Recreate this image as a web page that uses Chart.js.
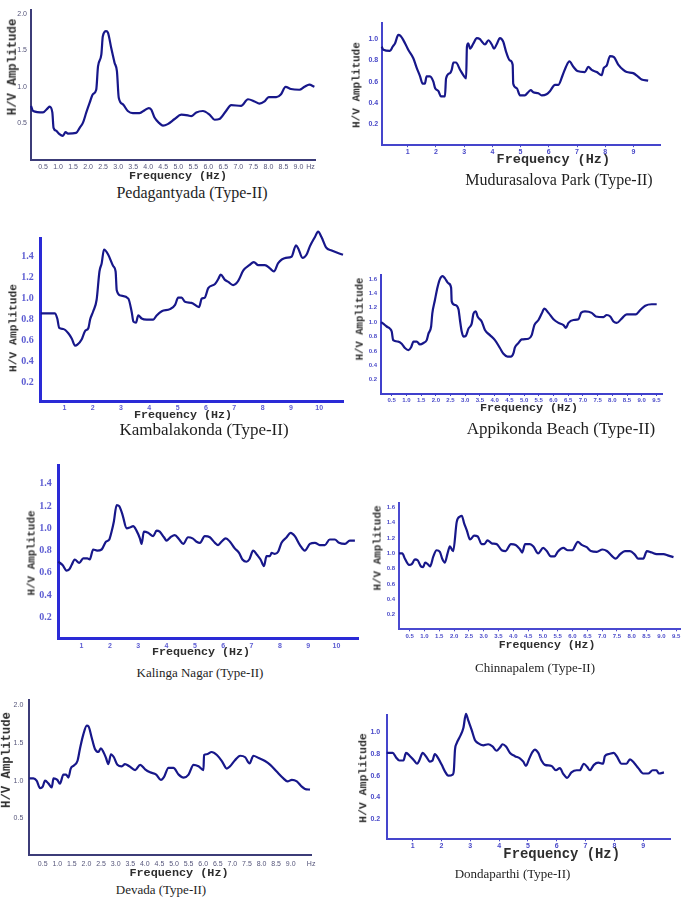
<!DOCTYPE html>
<html><head><meta charset="utf-8">
<script src="https://cdn.jsdelivr.net/npm/chart.js@4.4.1/dist/chart.umd.min.js"></script>
<style>
html,body{margin:0;padding:0;background:#fff;width:685px;height:897px;overflow:hidden;position:relative}
canvas{position:absolute}
.t{position:absolute;white-space:nowrap;line-height:1;transform:translate(-50%,-50%)}
.cap{font-family:"Liberation Serif","Times New Roman",serif;color:#1e1e1e}
.ax{font-family:"Liberation Mono","Courier New",monospace;font-weight:bold;color:#2e2e2e}
.rot{transform:translate(-50%,-50%) rotate(-90deg)}
</style>
</head><body>
<script>
// ---------- DATA ----------
const titles = ["Pedagantyada (Type-II)","Mudurasalova Park (Type-II)","Kambalakonda (Type-II)","Appikonda Beach (Type-II)","Kalinga Nagar (Type-II)","Chinnapalem (Type-II)","Devada (Type-II)","Dondaparthi (Type-II)"];
const xAxisTitle = "Frequency  (Hz)";
const yAxisTitle = "H/V Amplitude";

const p1Freq = [0.1,0.17,0.5,0.66,0.72,0.81,0.85,0.94,1.03,1.16,1.25,1.33,1.6,1.72,1.83,1.94,2.05,2.16,2.27,2.33,2.44,2.49,2.6,2.66,2.77,2.88,2.96,3.02,3.16,3.32,3.49,3.71,3.88,4.02,4.1,4.21,4.38,4.49,4.65,4.88,5.1,5.32,5.43,5.6,5.82,6.04,6.21,6.37,6.59,6.76,7.09,7.32,7.54,7.7,7.87,8.01,8.26,8.42,8.57,8.75,9.03,9.2,9.36,9.53];
const p1Amp  = [0.74,0.67,0.65,0.71,0.73,0.65,0.44,0.40,0.36,0.33,0.38,0.36,0.37,0.44,0.51,0.65,0.78,0.90,0.96,1.28,1.44,1.69,1.76,1.74,1.53,1.33,1.21,0.85,0.76,0.67,0.64,0.64,0.68,0.71,0.69,0.58,0.50,0.47,0.49,0.56,0.62,0.61,0.60,0.65,0.67,0.62,0.55,0.56,0.67,0.75,0.74,0.83,0.80,0.77,0.80,0.86,0.86,0.90,1.00,0.97,0.96,1.00,1.03,1.00];
const p1XTicks = [0.5,1,1.5,2,2.5,3,3.5,4,4.5,5,5.5,6,6.5,7,7.5,8,8.5,9,9.4];
const p1XLabels = ["0.5","1.0","1.5","2.0","2.5","3.0","3.5","4.0","4.5","5.0","5.5","6.0","6.5","7.0","7.5","8.0","8.5","9.0","Hz"];
const p1YTicks = [0.5,1.0,1.5,2.0];
const p1YLabels = ["0.5","1.0","1.5","2.0"];

const p2Freq = [0.08,0.14,0.37,0.47,0.55,0.67,0.75,0.91,1.02,1.2,1.32,1.44,1.53,1.61,1.67,1.79,1.91,1.97,2.09,2.18,2.32,2.36,2.5,2.56,2.62,2.71,2.86,3.0,3.07,3.1,3.15,3.21,3.33,3.45,3.56,3.62,3.74,3.86,3.98,4.06,4.15,4.27,4.38,4.5,4.62,4.72,4.74,4.86,4.98,5.15,5.27,5.36,5.45,5.63,5.75,5.92,6.04,6.22,6.34,6.49,6.61,6.73,6.87,7.01,7.28,7.4,7.52,7.7,7.87,7.95,8.05,8.17,8.31,8.46,8.64,8.76,8.99,9.15,9.29,9.52];
const p2Amp  = [0.93,0.90,0.89,0.93,0.96,1.04,1.03,0.96,0.90,0.82,0.73,0.65,0.58,0.58,0.65,0.65,0.60,0.54,0.51,0.46,0.46,0.63,0.68,0.71,0.78,0.78,0.71,0.65,0.63,0.93,0.96,0.91,0.96,1.01,1.0,0.98,0.95,0.99,0.95,0.91,0.95,1.01,0.98,0.87,0.80,0.76,0.58,0.54,0.47,0.47,0.50,0.52,0.50,0.49,0.47,0.48,0.51,0.57,0.57,0.66,0.74,0.79,0.74,0.70,0.69,0.74,0.71,0.69,0.66,0.73,0.75,0.84,0.83,0.76,0.71,0.69,0.68,0.65,0.62,0.61];
const p2XTicks = [1,2,3,4,5,6,7,8,9];
const p2XLabels = ["1","2","3","4","5","6","7","8","9"];
const p2YTicks = [0.2,0.4,0.6,0.8,1.0];
const p2YLabels = ["0.2","0.4","0.6","0.8","1.0"];

const p3Freq = [0.165,0.67,0.75,0.82,0.96,1.14,1.26,1.38,1.46,1.61,1.73,1.85,1.91,2.02,2.14,2.24,2.32,2.4,2.55,2.73,2.81,2.85,2.99,3.26,3.38,3.44,3.53,3.61,3.73,3.91,4.14,4.26,4.44,4.73,4.91,5.02,5.14,5.26,5.49,5.76,5.85,5.96,6.08,6.32,6.44,6.52,6.67,6.79,6.96,7.14,7.32,7.53,7.69,7.85,8.08,8.26,8.4,8.55,8.82,9.02,9.18,9.26,9.41,9.55,9.67,9.85,9.96,10.08,10.24,10.44,10.84];
const p3Amp  = [0.86,0.86,0.81,0.72,0.71,0.67,0.62,0.55,0.56,0.61,0.69,0.72,0.80,0.88,0.99,1.26,1.34,1.47,1.42,1.31,1.26,1.08,1.03,1.0,0.87,0.78,0.77,0.84,0.81,0.80,0.80,0.84,0.88,0.90,0.94,1.01,1.01,0.97,0.96,0.92,1.0,1.01,1.10,1.14,1.19,1.23,1.18,1.16,1.13,1.17,1.27,1.32,1.35,1.32,1.32,1.29,1.26,1.34,1.39,1.40,1.51,1.48,1.39,1.42,1.50,1.59,1.64,1.59,1.49,1.46,1.42];
const p3XTicks = [1,2,3,4,5,6,7,8,9,10];
const p3XLabels = ["1","2","3","4","5","6","7","8","9","10"];
const p3YTicks = [0.2,0.4,0.6,0.8,1.0,1.2,1.4];
const p3YLabels = ["0.2","0.4","0.6","0.8","1.0","1.2","1.4"];

const p4Freq = [0.14,0.21,0.33,0.44,0.5,0.55,0.72,0.84,0.95,1.07,1.16,1.24,1.35,1.46,1.58,1.69,1.75,1.84,1.88,1.97,2.06,2.14,2.23,2.31,2.43,2.52,2.54,2.65,2.77,2.82,2.88,2.94,3.02,3.11,3.22,3.28,3.36,3.42,3.56,3.67,3.84,4.01,4.18,4.3,4.44,4.55,4.64,4.69,4.81,4.92,5.15,5.26,5.35,5.49,5.6,5.69,5.83,6.0,6.17,6.34,6.42,6.51,6.68,6.85,6.94,7.07,7.3,7.44,7.7,7.81,7.93,8.04,8.15,8.32,8.49,8.8,8.95,9.12,9.34,9.51];
const p4Amp  = [1.0,0.98,0.94,0.91,0.87,0.75,0.73,0.70,0.64,0.61,0.65,0.73,0.73,0.69,0.71,0.75,0.84,0.94,1.12,1.31,1.49,1.60,1.64,1.61,1.54,1.48,1.29,1.24,1.18,1.03,0.87,0.80,0.81,0.91,0.98,1.12,1.15,1.08,1.01,0.89,0.82,0.75,0.64,0.56,0.52,0.52,0.57,0.65,0.71,0.76,0.77,0.82,0.96,1.03,1.12,1.19,1.13,1.04,0.99,0.96,0.92,0.99,1.03,1.04,1.13,1.15,1.13,1.08,1.07,1.10,1.08,1.01,0.99,1.05,1.11,1.11,1.17,1.23,1.25,1.25];
const p4XTicks = [0.5,1,1.5,2,2.5,3,3.5,4,4.5,5,5.5,6,6.5,7,7.5,8,8.5,9,9.5];
const p4XLabels = ["0.5","1.0","1.5","2.0","2.5","3.0","3.5","4.0","4.5","5.0","5.5","6.0","6.5","7.0","7.5","8.0","8.5","9.0","9.5"];
const p4YTicks = [0.2,0.4,0.6,0.8,1.0,1.2,1.4,1.6];
const p4YLabels = ["0.2","0.4","0.6","0.8","1.0","1.2","1.4","1.6"];

const p5Freq = [0.18,0.33,0.47,0.56,0.65,0.76,0.92,1.06,1.2,1.29,1.41,1.55,1.71,1.86,1.98,2.06,2.14,2.24,2.33,2.45,2.59,2.73,2.82,2.94,3.06,3.12,3.2,3.35,3.53,3.65,3.76,3.91,4.0,4.14,4.29,4.45,4.59,4.76,4.92,5.06,5.18,5.35,5.53,5.71,5.82,5.94,6.09,6.24,6.41,6.56,6.68,6.82,6.92,7.06,7.2,7.32,7.44,7.53,7.65,7.71,7.82,7.94,8.06,8.24,8.38,8.53,8.71,8.88,9.06,9.24,9.41,9.59,9.76,9.94,10.09,10.3,10.47,10.65];
const p5Amp  = [0.70,0.67,0.62,0.63,0.67,0.72,0.69,0.73,0.73,0.72,0.81,0.80,0.81,0.88,0.90,0.97,1.06,1.21,1.20,1.12,1.0,1.01,1.02,0.98,0.91,0.86,0.97,0.96,0.93,0.98,0.97,0.92,0.89,0.92,0.94,0.90,0.86,0.92,0.91,0.88,0.87,0.93,0.92,0.87,0.85,0.88,0.91,0.88,0.82,0.78,0.72,0.70,0.72,0.80,0.76,0.72,0.66,0.75,0.75,0.78,0.77,0.79,0.87,0.92,0.96,0.93,0.85,0.80,0.86,0.87,0.85,0.85,0.90,0.90,0.87,0.86,0.89,0.89];
const p5XTicks = [1,2,3,4,5,6,7,8,9,10];
const p5XLabels = ["1","2","3","4","5","6","7","8","9","10"];
const p5YTicks = [0.2,0.4,0.6,0.8,1.0,1.2,1.4];
const p5YLabels = ["0.2","0.4","0.6","0.8","1.0","1.2","1.4"];

const p6Freq = [0.14,0.25,0.34,0.48,0.57,0.68,0.77,0.88,0.96,1.02,1.11,1.19,1.3,1.41,1.52,1.6,1.69,1.78,1.86,1.94,1.97,2.09,2.2,2.26,2.34,2.43,2.54,2.68,2.8,2.93,3.02,3.13,3.27,3.44,3.61,3.74,3.92,4.08,4.23,4.3,4.4,4.56,4.68,4.84,5.01,5.13,5.27,5.39,5.5,5.69,5.84,5.99,6.18,6.31,6.48,6.62,6.82,7.01,7.16,7.32,7.46,7.61,7.77,7.94,8.11,8.22,8.39,8.51,8.68,8.84,9.07,9.24,9.41];
const p6Amp  = [1.0,1.0,0.93,0.85,0.86,0.92,0.91,0.83,0.82,0.88,0.86,0.83,0.96,1.04,1.02,0.93,0.88,1.0,1.09,1.04,1.03,1.41,1.48,1.49,1.39,1.30,1.18,1.23,1.22,1.12,1.12,1.17,1.13,1.12,1.04,1.03,1.12,1.11,1.05,1.01,1.12,1.12,1.09,1.0,1.07,1.03,0.96,0.96,1.02,1.07,1.04,1.04,1.15,1.11,1.08,1.03,1.02,1.05,1.03,0.97,0.93,0.99,1.03,1.03,0.98,0.93,0.93,1.03,1.01,0.99,0.99,0.97,0.95];
const p6XTicks = [0.5,1,1.5,2,2.5,3,3.5,4,4.5,5,5.5,6,6.5,7,7.5,8,8.5,9,9.5];
const p6XLabels = ["0.5","1.0","1.5","2.0","2.5","3.0","3.5","4.0","4.5","5.0","5.5","6.0","6.5","7.0","7.5","8.0","8.5","9.0","9.5"];
const p6YTicks = [0.2,0.4,0.6,0.8,1.0,1.2,1.4,1.6];
const p6YLabels = ["0.2","0.4","0.6","0.8","1.0","1.2","1.4","1.6"];

const p7Freq = [0.04,0.18,0.29,0.41,0.5,0.58,0.7,0.81,0.87,1.0,1.09,1.21,1.3,1.38,1.46,1.57,1.69,1.78,1.89,2.01,2.07,2.18,2.29,2.41,2.49,2.58,2.67,2.75,2.84,2.94,3.06,3.21,3.32,3.47,3.67,3.84,4.01,4.18,4.39,4.55,4.66,4.81,4.98,5.16,5.33,5.5,5.67,5.84,6.01,6.03,6.12,6.29,6.47,6.64,6.81,6.92,7.09,7.27,7.44,7.59,7.72,7.9,8.12,8.3,8.52,8.75,8.89,9.04,9.21,9.38,9.49,9.66];
const p7Amp  = [1.03,1.03,1.0,0.90,0.92,1.0,0.96,0.91,1.03,1.01,0.96,1.08,1.08,1.04,1.16,1.20,1.26,1.43,1.61,1.73,1.72,1.57,1.42,1.38,1.43,1.38,1.30,1.22,1.35,1.31,1.21,1.19,1.22,1.19,1.14,1.21,1.15,1.11,1.08,1.01,1.05,1.17,1.17,1.08,1.04,1.08,1.21,1.19,1.14,1.34,1.35,1.38,1.34,1.26,1.16,1.19,1.27,1.33,1.31,1.23,1.33,1.30,1.26,1.21,1.12,1.03,0.99,1.01,0.99,0.92,0.89,0.88];
const p7XTicks = [0.5,1,1.5,2,2.5,3,3.5,4,4.5,5,5.5,6,6.5,7,7.5,8,8.5,9,9.7];
const p7XLabels = ["0.5","1.0","1.5","2.0","2.5","3.0","3.5","4.0","4.5","5.0","5.5","6.0","6.5","7.0","7.5","8.0","8.5","9.0","Hz"];
const p7YTicks = [0.5,1.0,1.5,2.0];
const p7YLabels = ["0.5","1.0","1.5","2.0"];

const p8Freq = [0.1,0.31,0.42,0.54,0.68,0.77,0.91,1.05,1.16,1.23,1.35,1.46,1.6,1.69,1.77,1.89,2.01,2.12,2.24,2.39,2.43,2.47,2.53,2.64,2.76,2.85,2.93,3.05,3.16,3.27,3.45,3.62,3.77,3.91,4.03,4.12,4.24,4.38,4.55,4.72,4.84,4.93,5.05,5.16,5.24,5.36,5.47,5.59,5.82,5.97,6.11,6.22,6.36,6.51,6.69,6.8,6.94,7.06,7.15,7.29,7.44,7.61,7.67,7.82,7.98,8.08,8.25,8.42,8.54,8.68,8.83,9.0,9.17,9.33,9.46,9.55,9.72];
const p8Amp  = [0.81,0.81,0.77,0.74,0.74,0.81,0.78,0.74,0.71,0.74,0.81,0.78,0.73,0.74,0.80,0.76,0.70,0.64,0.60,0.61,0.65,0.84,0.90,0.96,1.04,1.17,1.11,1.02,0.93,0.90,0.88,0.89,0.87,0.83,0.86,0.89,0.87,0.81,0.78,0.76,0.73,0.69,0.76,0.82,0.84,0.81,0.74,0.70,0.69,0.65,0.67,0.62,0.58,0.63,0.65,0.65,0.71,0.68,0.65,0.70,0.72,0.71,0.78,0.80,0.81,0.78,0.71,0.71,0.75,0.72,0.67,0.62,0.62,0.65,0.65,0.62,0.63];
const p8XTicks = [1,2,3,4,5,6,7,8,9];
const p8XLabels = ["1","2","3","4","5","6","7","8","9"];
const p8YTicks = [0.2,0.4,0.6,0.8,1.0];
const p8YLabels = ["0.2","0.4","0.6","0.8","1.0"];

// ---------- LAYOUT / STYLE ----------
const sansT = {family:"'Liberation Sans', Arial, sans-serif", size:7};
const sansB = {family:"'Liberation Sans', Arial, sans-serif", size:7, weight:'bold'};
const tinyB = {family:"'Liberation Sans', Arial, sans-serif", size:6, weight:'bold'};
const serifB = {family:"'Liberation Serif', 'Times New Roman', serif", size:10, weight:'bold'};

const panels = [
 {freq:p1Freq, amp:p1Amp, xt:p1XTicks, xl:p1XLabels, yt:p1YTicks, yl:p1YLabels,
  L:31, T:10, R:315, B:160, xMin:0.1, xMax:9.55, yMin:0, yMax:2.05,
  axis:'#3c3c78', axisW:2, tickCol:'#55557a', xFont:sansT, yFont:sansT, xPad:2.5, yPad:4, tickLen:0,
  cap:[192,193,16], fx:[178,177,11.7], hv:[12.7,66.5,12.4]},
 {freq:p2Freq, amp:p2Amp, xt:p2XTicks, xl:p2XLabels, yt:p2YTicks, yl:p2YLabels,
  L:381.7, T:23.3, R:660, B:145.2, xMin:0.08, xMax:9.94, yMin:0, yMax:1.15,
  axis:'#4545cc', axisW:2, tickCol:'#4848c8', xFont:sansB, yFont:sansB, xPad:0.5, yPad:3.5, tickLen:2,
  cap:[559,180,16], fx:[553.3,159.5,13.5], hv:[356.7,85,11]},
 {freq:p3Freq, amp:p3Amp, xt:p3XTicks, xl:p3XLabels, yt:p3YTicks, yl:p3YLabels,
  L:40.7, T:238, R:343, B:401.7, xMin:0.165, xMax:10.84, yMin:0.015, yMax:1.58,
  axis:'#2a2ad6', axisW:3, tickCol:'#5c5cd2', xFont:sansB, yFont:serifB, xPad:2.5, yPad:7, tickLen:0,
  cap:[204,429,17], fx:[183,416,11.7], hv:[14,327.5,11.3]},
 {freq:p4Freq, amp:p4Amp, xt:p4XTicks, xl:p4XLabels, yt:p4YTicks, yl:p4YLabels,
  L:381, T:275, R:662, B:394, xMin:0.136, xMax:9.69, yMin:0, yMax:1.657,
  axis:'#4040cc', axisW:2, tickCol:'#4a4ac8', xFont:tinyB, yFont:tinyB, xPad:0.5, yPad:4, tickLen:2,
  cap:[561,428,17], fx:[529,409,11.7], hv:[360,318.5,10.6]},
 {freq:p5Freq, amp:p5Amp, xt:p5XTicks, xl:p5XLabels, yt:p5YTicks, yl:p5YLabels,
  L:58.3, T:465, R:358.3, B:638, xMin:0.18, xMax:10.77, yMin:0.014, yMax:1.57,
  axis:'#2a2ad6', axisW:3, tickCol:'#5c5cd2', xFont:sansB, yFont:serifB, xPad:3.5, yPad:6.5, tickLen:0,
  cap:[200,671.7,13], fx:[201,653,11.7], hv:[31.7,552.5,10.9]},
 {freq:p6Freq, amp:p6Amp, xt:p6XTicks, xl:p6XLabels, yt:p6YTicks, yl:p6YLabels,
  L:399, T:503, R:680, B:629.3, xMin:0.14, xMax:9.63, yMin:0.01, yMax:1.656,
  axis:'#4a4ad0', axisW:2, tickCol:'#4a4ac8', xFont:tinyB, yFont:tinyB, xPad:1.5, yPad:4, tickLen:2,
  cap:[535,666.7,13], fx:[547,645.3,11.5], hv:[378.3,547.5,10.9]},
 {freq:p7Freq, amp:p7Amp, xt:p7XTicks, xl:p7XLabels, yt:p7YTicks, yl:p7YLabels,
  L:29.3, T:700, R:311.7, B:855, xMin:0.04, xMax:9.72, yMin:0.013, yMax:2.07,
  axis:'#3c3c78', axisW:2, tickCol:'#55557a', xFont:sansT, yFont:sansT, xPad:4.8, yPad:6, tickLen:0,
  cap:[161,889.3,13], fx:[179,874.3,11.8], hv:[7.3,760,12.3]},
 {freq:p8Freq, amp:p8Amp, xt:p8XTicks, xl:p8XLabels, yt:p8YTicks, yl:p8YLabels,
  L:386.7, T:715, R:670, B:839.3, xMin:0.1, xMax:9.93, yMin:0.013, yMax:1.16,
  axis:'#4545cc', axisW:2, tickCol:'#4848c8', xFont:sansB, yFont:sansB, xPad:1, yPad:6.5, tickLen:2,
  cap:[512.5,873.3,13], fx:[561.7,854.5,13.9], hv:[363.3,778,11.5]}
];

const LINE = '#17178a';

function addText(txt, cls, x, y, size){
  const d = document.createElement('div');
  d.className = 't ' + cls;
  d.textContent = txt;
  d.style.left = x + 'px'; d.style.top = y + 'px'; d.style.fontSize = size + 'px';
  document.body.appendChild(d);
}

panels.forEach((p, i) => {
  const cl = Math.round(p.L - 28), ct = Math.round(p.T - 10);
  const padL = p.L - cl, padT = p.T - ct, padR = 10, padB = 22;
  const w = Math.ceil(p.R - cl + padR), h = Math.ceil(p.B - ct + padB);
  const cv = document.createElement('canvas');
  cv.width = w; cv.height = h;
  cv.style.left = cl + 'px'; cv.style.top = ct + 'px';
  cv.style.width = w + 'px'; cv.style.height = h + 'px';
  document.body.appendChild(cv);
  const bottomH = h - (p.B - ct);
  const rightW = w - (p.R - cl);
  new Chart(cv, {
    type: 'line',
    data: { datasets: [{
      data: p.freq.map((f, k) => ({x: f, y: p.amp[k]})),
      borderColor: LINE, borderWidth: 2.2, pointRadius: 0, fill: false,
      cubicInterpolationMode: 'monotone', clip: false
    }]},
    options: {
      responsive: false, animation: false, devicePixelRatio: 1,
      layout: { padding: { top: padT, right: rightW, left: 0, bottom: 0 } },
      plugins: { legend: {display: false}, tooltip: {enabled: false}, title: {display: false} },
      scales: {
        x: {
          type: 'linear', position: 'bottom', min: p.xMin, max: p.xMax, offset: false,
          afterBuildTicks: s => { s.ticks = p.xt.map(v => ({value: v})); },
          afterFit: s => { s.height = bottomH; s.paddingLeft = 0; s.paddingRight = 0; },
          ticks: { autoSkip: false, maxRotation: 0, minRotation: 0, padding: p.xPad, font: p.xFont, color: p.tickCol,
                   callback: (v, k) => p.xl[k] },
          grid: { display: p.tickLen > 0, drawOnChartArea: false, drawTicks: p.tickLen > 0, tickLength: p.tickLen, color: p.axis, lineWidth: 1 },
          border: { display: true, color: p.axis, width: p.axisW }
        },
        y: {
          type: 'linear', position: 'left', min: p.yMin, max: p.yMax,
          afterBuildTicks: s => { s.ticks = p.yt.map(v => ({value: v})); },
          afterFit: s => { s.width = padL; s.paddingTop = 0; s.paddingBottom = 0; },
          ticks: { autoSkip: false, padding: p.yPad, font: p.yFont, color: p.tickCol,
                   callback: (v, k) => p.yl[k] },
          grid: { display: false, drawTicks: false },
          border: { display: true, color: p.axis, width: p.axisW }
        }
      }
    }
  });
  addText(titles[i], 'cap', p.cap[0], p.cap[1], p.cap[2]);
  addText(xAxisTitle, 'ax', p.fx[0], p.fx[1], p.fx[2]);
  addText(yAxisTitle, 'ax rot', p.hv[0], p.hv[1], p.hv[2]);
});
</script>
</body></html>
